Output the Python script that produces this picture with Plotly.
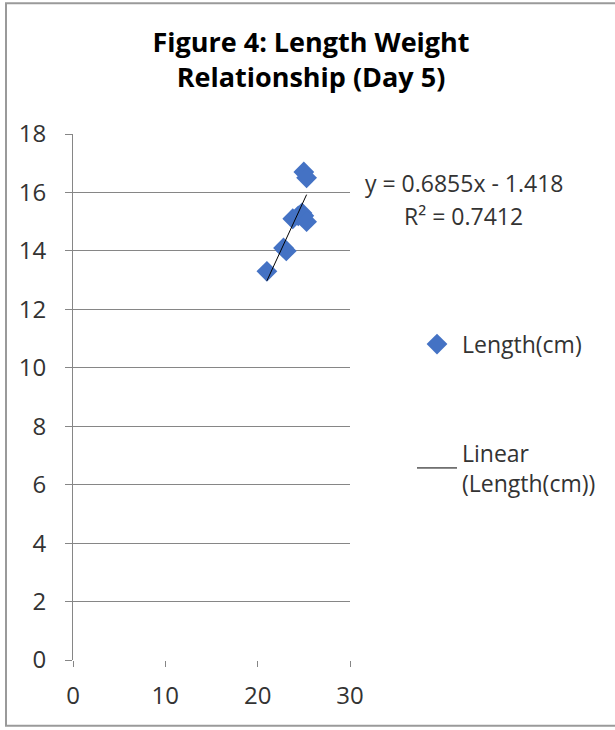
import plotly.graph_objects as go

# Data
weight = [21.0, 22.8, 23.1, 23.8, 24.4, 24.8, 25.0, 25.3, 25.0, 25.3]
length = [13.3, 14.1, 14.0, 15.1, 15.2, 15.3, 15.2, 15.0, 16.7, 16.5]
slope = 0.6855
intercept = -1.418
r2 = 0.7412

x_ticks = [0, 10, 20, 30]
y_ticks = [0, 2, 4, 6, 8, 10, 12, 14, 16, 18]

fx = [min(weight), max(weight)]
fy = [slope * v + intercept for v in fx]

FONT = "Open Sans"
TXT = "#333333"

fig = go.Figure()
fig.add_trace(go.Scatter(
    x=weight, y=length, mode="markers", name="Length(cm)",
    marker=dict(symbol="diamond", size=16, color="#4472C4", line=dict(width=0)),
    legendgroup="a",
))
fig.add_trace(go.Scatter(
    x=fx, y=fy, mode="lines", name="Linear<br>(Length(cm))",
    line=dict(color="black", width=1), legendgroup="b",
))

fig.update_layout(
    width=615, height=730,
    margin=dict(l=73, r=265, t=134, b=70),
    paper_bgcolor="white", plot_bgcolor="white",
    font=dict(family=FONT, size=23, color=TXT),
    title=dict(text="<b>Figure 4: Length Weight<br>Relationship (Day 5)</b>",
               x=311 / 615, xref="container", xanchor="center",
               y=1 - 52 / 730, yanchor="top", yref="container",
               font=dict(family=FONT, size=27, color="black")),
    showlegend=True,
    legend=dict(x=(412 - 73) / 277, y=(661 - 323) / 527, xanchor="left", yanchor="top",
                tracegroupgap=76, traceorder="grouped", itemwidth=40,
                font=dict(family=FONT, size=23, color=TXT),
                bgcolor="rgba(0,0,0,0)"),
)

fig.update_xaxes(range=[0, 30], tickvals=x_ticks, showgrid=False, zeroline=False,
                 showline=False, ticks="outside", ticklen=6, tickcolor="#868686",
                 ticklabelstandoff=8, tickfont=dict(size=24, color=TXT))
fig.update_yaxes(range=[0, 18], tickvals=y_ticks, showgrid=True, gridcolor="#868686",
                 gridwidth=1, zeroline=False, showline=True, linecolor="#868686",
                 linewidth=1, ticks="outside", ticklen=7, tickcolor="#868686",
                 ticklabelstandoff=14, tickfont=dict(size=24, color=TXT))

# outer chart border
fig.add_shape(type="rect", xref="paper", yref="paper",
              x0=(6 - 73) / 277, x1=(625 - 73) / 277,
              y0=(661 - 727) / 527, y1=(661 - 3) / 527,
              line=dict(color="#9a9a9a", width=2), layer="below")

fig.add_annotation(text="y = 0.6855x - 1.418", xref="paper", yref="paper",
                   x=(464 - 73) / 277, y=(661 - 183) / 527, showarrow=False,
                   xanchor="center", yanchor="middle", font=dict(size=23, color=TXT))
fig.add_annotation(text="R² = 0.7412", xref="paper", yref="paper",
                   x=(463 - 73) / 277, y=(661 - 216) / 527, showarrow=False,
                   xanchor="center", yanchor="middle", font=dict(size=23, color=TXT))

fig.write_html("out.html")
